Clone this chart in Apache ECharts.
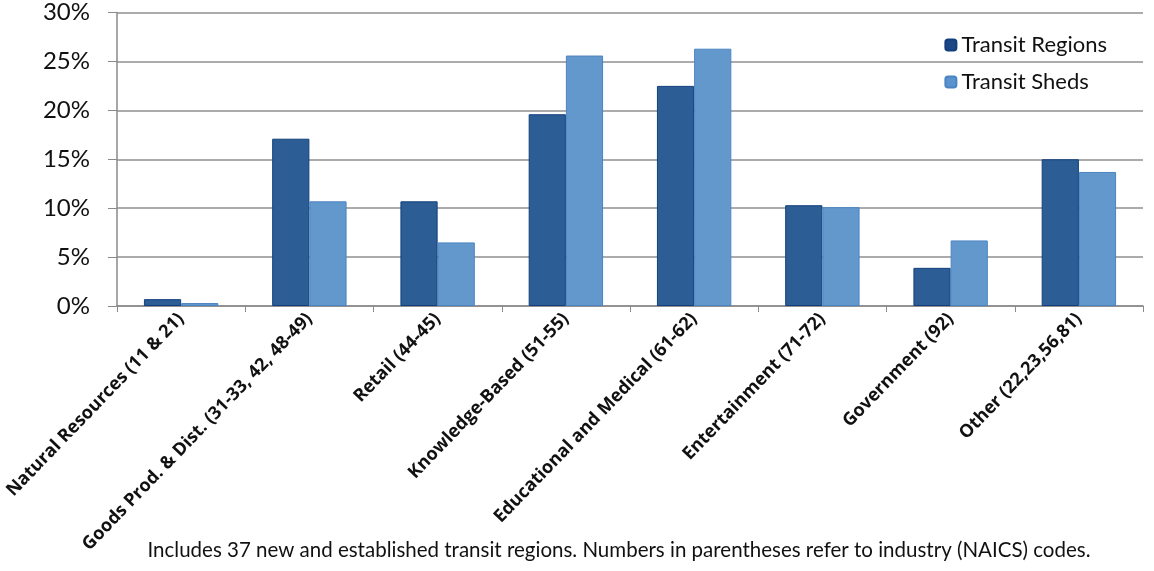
<!DOCTYPE html>
<html>
<head>
<meta charset="utf-8">
<script src="https://cdn.jsdelivr.net/npm/echarts@6/dist/echarts.min.js"></script>
<style>
html,body{margin:0;padding:0;background:#fff;}
#chart{width:1154px;height:571px;}
</style>
</head>
<body>
<div id="chart"></div>
<script>
const categories = [
  "Natural Resources (11 & 21)",
  "Goods Prod. & Dist. (31-33, 42, 48-49)",
  "Retail (44-45)",
  "Knowledge-Based (51-55)",
  "Educational and Medical (61-62)",
  "Entertainment (71-72)",
  "Government (92)",
  "Other (22,23,56,81)"
];
const transitRegions = [0.7, 17.1, 10.7, 19.6, 22.5, 10.3, 3.9, 15.0];
const transitSheds = [0.3, 10.7, 6.5, 25.6, 26.3, 10.1, 6.7, 13.7];
const caption = "Includes 37 new and established transit regions. Numbers in parentheses refer to industry (NAICS) codes.";

const chart = echarts.init(document.getElementById('chart'));
chart.setOption({
  animation: false,
  backgroundColor: '#ffffff',
  grid: { left: 117, right: 11, top: 12.5, bottom: 265, containLabel: false, outerBoundsMode: 'none' },
  legend: {
    orient: 'vertical',
    right: 42,
    top: 29,
    itemWidth: 11,
    itemHeight: 11,
    itemGap: 15,
    textStyle: { fontFamily: 'Lato', fontSize: 22, color: '#111' },
    data: [
      { name: 'Transit Regions', itemStyle: { color: '#1d4685' } },
      { name: 'Transit Sheds', itemStyle: { color: '#5b93cf' } }
    ]
  },
  title: {
    text: caption,
    left: 614,
    textAlign: 'center',
    top: 535,
    textStyle: { fontFamily: 'Lato', fontSize: 20.5, fontWeight: 'normal', color: '#111' }
  },
  xAxis: {
    type: 'category',
    data: categories,
    axisLine: { lineStyle: { color: '#8a8a8a', width: 1.5 } },
    axisTick: { show: true, length: 6, lineStyle: { color: '#8a8a8a' } },
    axisLabel: {
      rotate: 46,
      margin: 10,
      interval: 0,
      fontFamily: 'Open Sans',
      fontWeight: 'bold',
      fontSize: 18,
      color: '#111'
    }
  },
  yAxis: {
    type: 'value',
    min: 0,
    max: 30,
    interval: 5,
    axisLine: { show: true, lineStyle: { color: '#8a8a8a', width: 1.5 } },
    axisTick: { show: true, length: 9, lineStyle: { color: '#8a8a8a' } },
    splitLine: { lineStyle: { color: '#8f8f8f', width: 1.5 } },
    axisLabel: {
      formatter: '{value}%',
      margin: 27,
      fontFamily: 'Lato',
      fontSize: 24,
      color: '#111'
    }
  },
  series: [
    {
      name: 'Transit Regions',
      type: 'bar',
      data: transitRegions,
      barGap: '0%',
      barCategoryGap: '42%',
      itemStyle: { color: '#2c5d95', borderColor: '#123f7c', borderWidth: 1 }
    },
    {
      name: 'Transit Sheds',
      type: 'bar',
      data: transitSheds,
      barGap: '0%',
      barCategoryGap: '42%',
      itemStyle: { color: '#6398cd', borderColor: '#4b84c2', borderWidth: 1 }
    }
  ]
});
</script>
</body>
</html>
